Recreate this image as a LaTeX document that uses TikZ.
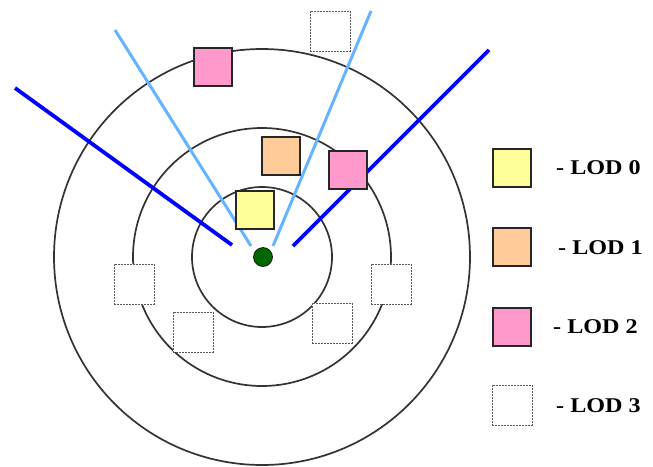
\documentclass[tikz,border=0pt]{standalone}
\usepackage{fontspec}
\newfontfamily\lodfont{Liberation Serif}[FakeStretch=1.15]
\definecolor{lodyellow}{HTML}{FFFF99}
\definecolor{lodorange}{HTML}{FFCC99}
\definecolor{lodpink}{HTML}{FF99CC}
\definecolor{rayblue}{HTML}{0000FF}
\definecolor{raylight}{HTML}{66B3FF}
\definecolor{eyegreen}{HTML}{006600}
\begin{document}
\begin{tikzpicture}[x=1pt,y=-1pt,
  ring/.style={draw=black!80,line width=1.7pt},
  lod/.style={draw=black!85,line width=1.5pt,minimum size=38pt,inner sep=0pt},
  lodzero/.style={lod,fill=lodyellow},
  lodone/.style={lod,fill=lodorange},
  lodtwo/.style={lod,fill=lodpink},
  lodthree/.style={draw=black!65,dash pattern=on 2pt off 1pt,line width=1pt,minimum size=40pt,inner sep=0pt,fill=white},
  far/.style={draw=rayblue,line width=3.8pt},
  near/.style={draw=raylight,line width=3pt},
  legend/.style={anchor=west,font=\lodfont\bfseries\fontsize{21}{24}\selectfont,inner sep=0pt}
]
\useasboundingbox (0,0) rectangle (653,466);
% rings
\draw[ring] (262,257) circle[radius=208];
\draw[ring] (262,257) circle[radius=129];
\draw[ring] (262,257) circle[radius=70];
% view rays
\coordinate (fl0) at (15,88);   \coordinate (fl1) at (232,245);
\coordinate (fr0) at (489,50);  \coordinate (fr1) at (293,246);
\coordinate (nl0) at (115,30);  \coordinate (nl1) at (251,246);
\coordinate (nr0) at (371,11);  \coordinate (nr1) at (273,246);
\draw[far] (fl0) -- (fl1);
\draw[far] (fr0) -- (fr1);
\draw[near] (nl0) -- (nl1);
\draw[near] (nr0) -- (nr1);
% eye
\node[circle,fill=eyegreen,draw=black,line width=0.6pt,minimum size=19pt,inner sep=0pt] (eye) at (263,257) {};
% objects
\node[lodtwo] (p1) at (213,67) {};
\node[lodone] (o1) at (281,156) {};
\node[lodzero] (y1) at (255,210) {};
\node[lodtwo] (p2) at (348,170) {};
\node[lodthree] (d1) at (330,31) {};
\node[lodthree] (d2) at (134,284) {};
\node[lodthree] (d3) at (193,332) {};
\node[lodthree] (d4) at (332,323) {};
\node[lodthree] (d5) at (391,284) {};
% legend
\node[lodzero] (k0) at (512,168) {};
\node[lodone] (k1) at (512,247) {};
\node[lodtwo] (k2) at (512,327) {};
\node[lodthree] (k3) at (512,405) {};
\node[legend] (t0) at (556,168) {- LOD 0};
\node[legend] (t1) at (558,248) {- LOD 1};
\node[legend] (t2) at (553,327) {- LOD 2};
\node[legend] (t3) at (556,406) {- LOD 3};
\end{tikzpicture}
\end{document}
